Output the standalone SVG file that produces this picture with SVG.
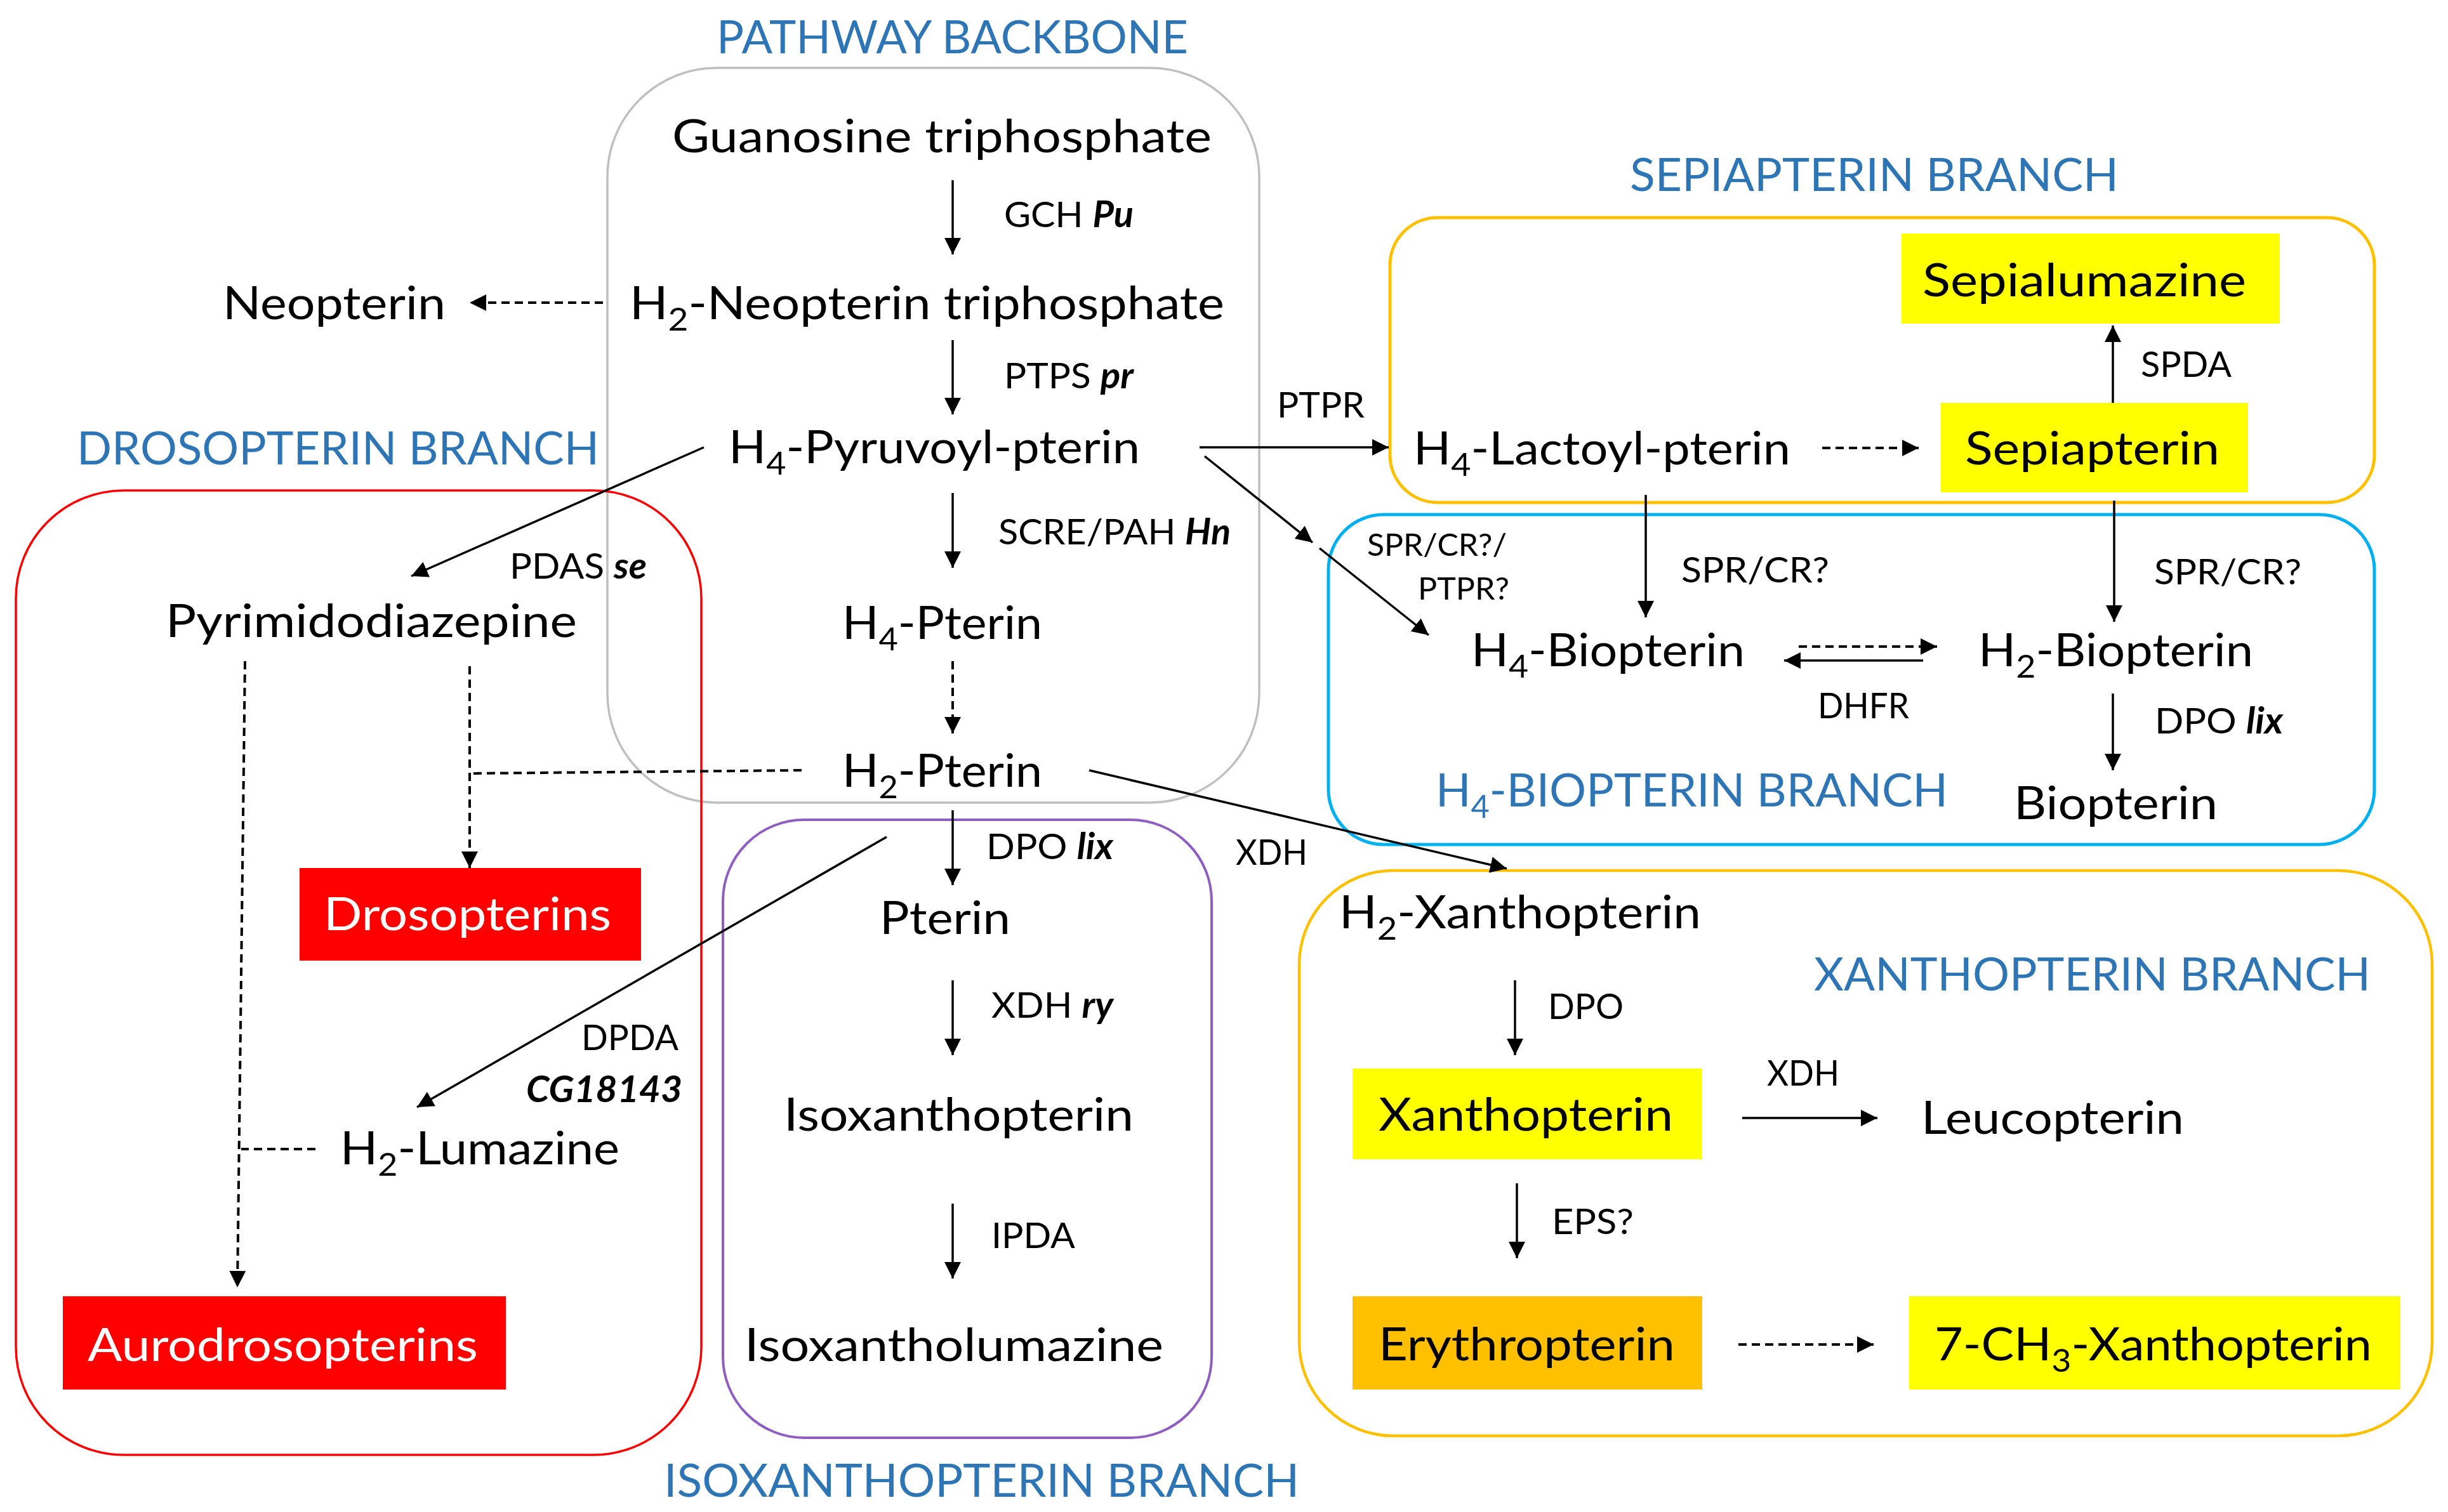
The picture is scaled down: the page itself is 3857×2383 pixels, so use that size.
<svg xmlns="http://www.w3.org/2000/svg" width="3857" height="2383" viewBox="0 0 3857 2383">
<style>
text{font-family:Lato,"Open Sans","Liberation Sans",sans-serif;fill:#000}
.n{font-size:72px}
.t{font-size:72px;fill:#2E75B6}
.e{font-size:57px}
.s{font-size:48px}
.w{fill:#fff}
.gi{font-weight:bold;font-style:italic}
.sub{font-size:50px}
.box{fill:none}
.c line{stroke:#000;stroke-width:3.5;fill:none}
.c .d{stroke-dasharray:13 8;stroke-width:4}
</style>
<defs>
<marker id="ah" viewBox="0 0 26 26" refX="26" refY="13" markerWidth="26" markerHeight="26" markerUnits="userSpaceOnUse" orient="auto">
<path d="M0,0 L26,13 L0,26 z" fill="#000"/>
</marker>
</defs>
<rect width="3857" height="2383" fill="#fff"/>

<g id="branch-boxes">
<rect id="box-backbone" class="box" x="957" y="107" width="1027" height="1158" rx="172" stroke="#BFBFBF" stroke-width="3.5"/>
<rect id="box-drosopterin" class="box" x="25" y="773" width="1080" height="1520" rx="170" stroke="#FF0000" stroke-width="3.5"/>
<rect id="box-isoxanthopterin" class="box" x="1139" y="1292" width="770" height="974" rx="128" stroke="#8E5EC0" stroke-width="4"/>
<rect id="box-sepiapterin" class="box" x="2190" y="343" width="1551" height="449" rx="75" stroke="#FFC000" stroke-width="5"/>
<rect id="box-biopterin" class="box" x="2093" y="811" width="1648" height="520" rx="87" stroke="#00B0F0" stroke-width="5"/>
<rect id="box-xanthopterin" class="box" x="2047" y="1372" width="1785" height="891" rx="148" stroke="#FFC000" stroke-width="4.5"/>
</g>

<g id="titles">
<text class="t" x="1129" y="84" textLength="743" lengthAdjust="spacingAndGlyphs">PATHWAY BACKBONE</text>
<text class="t" x="2568" y="301" textLength="770" lengthAdjust="spacingAndGlyphs">SEPIAPTERIN BRANCH</text>
<text class="t" x="121" y="732" textLength="823" lengthAdjust="spacingAndGlyphs">DROSOPTERIN BRANCH</text>
<text class="t" x="2262" y="1271" textLength="807" lengthAdjust="spacingAndGlyphs">H<tspan class="sub" dy="18">4</tspan><tspan dy="-18">-BIOPTERIN BRANCH</tspan></text>
<text class="t" x="2858" y="1561" textLength="877" lengthAdjust="spacingAndGlyphs">XANTHOPTERIN BRANCH</text>
<text class="t" x="1046" y="2359" textLength="1001" lengthAdjust="spacingAndGlyphs">ISOXANTHOPTERIN BRANCH</text>
</g>

<g id="connectors" class="c">
<line x1="1501" y1="284" x2="1501" y2="401" marker-end="url(#ah)"/>
<line x1="1501" y1="536" x2="1501" y2="653" marker-end="url(#ah)"/>
<line x1="1501" y1="777" x2="1501" y2="895" marker-end="url(#ah)"/>
<line class="d" x1="1501" y1="1042" x2="1501" y2="1156" marker-end="url(#ah)"/>
<line x1="1501" y1="1277" x2="1501" y2="1395" marker-end="url(#ah)"/>
<line x1="1501" y1="1545" x2="1501" y2="1663" marker-end="url(#ah)"/>
<line x1="1501" y1="1897" x2="1501" y2="2015" marker-end="url(#ah)"/>
<line class="d" x1="950" y1="477" x2="740" y2="477" marker-end="url(#ah)"/>
<line x1="1890" y1="705" x2="2188" y2="705" marker-end="url(#ah)"/>
<line x1="1898" y1="719" x2="2068" y2="855" marker-end="url(#ah)"/>
<line x1="2079" y1="864" x2="2251" y2="1001" marker-end="url(#ah)"/>
<line x1="1109" y1="705" x2="648" y2="908" marker-end="url(#ah)"/>
<line class="d" x1="2871" y1="706" x2="3023" y2="706" marker-end="url(#ah)"/>
<line x1="3329" y1="640" x2="3329" y2="513" marker-end="url(#ah)"/>
<line x1="2593" y1="780" x2="2593" y2="973" marker-end="url(#ah)"/>
<line x1="3331" y1="789" x2="3331" y2="980" marker-end="url(#ah)"/>
<line class="d" x1="2834" y1="1019" x2="3052" y2="1019" marker-end="url(#ah)"/>
<line x1="3030" y1="1041" x2="2811" y2="1041" marker-end="url(#ah)"/>
<line x1="3329" y1="1093" x2="3329" y2="1214" marker-end="url(#ah)"/>
<line x1="1716" y1="1214" x2="2374" y2="1369" marker-end="url(#ah)"/>
<line x1="1397" y1="1319" x2="657" y2="1745" marker-end="url(#ah)"/>
<line class="d" x1="386" y1="1042" x2="374" y2="2029" marker-end="url(#ah)"/>
<line class="d" x1="740" y1="1050" x2="740" y2="1368" marker-end="url(#ah)"/>
<line class="d" x1="1263" y1="1214" x2="740" y2="1219"/>
<line class="d" x1="497" y1="1811" x2="380" y2="1811"/>
<line x1="2387" y1="1545" x2="2387" y2="1663" marker-end="url(#ah)"/>
<line x1="2745" y1="1762" x2="2958" y2="1762" marker-end="url(#ah)"/>
<line x1="2390" y1="1865" x2="2390" y2="1983" marker-end="url(#ah)"/>
<line class="d" x1="2739" y1="2119" x2="2952" y2="2119" marker-end="url(#ah)"/>
</g>

<g id="enzyme-labels">
<text class="e" x="1582" y="358" textLength="204" lengthAdjust="spacingAndGlyphs">GCH <tspan class="gi">Pu</tspan></text>
<text class="e" x="1582" y="612" textLength="204" lengthAdjust="spacingAndGlyphs">PTPS <tspan class="gi">pr</tspan></text>
<text class="e" x="1573" y="858" textLength="366" lengthAdjust="spacingAndGlyphs">SCRE/PAH <tspan class="gi">Hn</tspan></text>
<text class="e" x="803" y="912" textLength="216" lengthAdjust="spacingAndGlyphs">PDAS <tspan class="gi">se</tspan></text>
<text class="e" x="2012" y="658" textLength="138" lengthAdjust="spacingAndGlyphs">PTPR</text>
<text class="e" x="3373" y="594" textLength="143" lengthAdjust="spacingAndGlyphs">SPDA</text>
<text class="s" x="2154" y="876" textLength="220" lengthAdjust="spacingAndGlyphs">SPR/CR?/</text>
<text class="s" x="2234" y="945" textLength="144" lengthAdjust="spacingAndGlyphs">PTPR?</text>
<text class="e" x="2649" y="918" textLength="233" lengthAdjust="spacingAndGlyphs">SPR/CR?</text>
<text class="e" x="3394" y="921" textLength="232" lengthAdjust="spacingAndGlyphs">SPR/CR?</text>
<text class="e" x="2864" y="1132" textLength="144" lengthAdjust="spacingAndGlyphs">DHFR</text>
<text class="e" x="3395" y="1156" textLength="202" lengthAdjust="spacingAndGlyphs">DPO <tspan class="gi">lix</tspan></text>
<text class="e" x="1554" y="1354" textLength="200" lengthAdjust="spacingAndGlyphs">DPO <tspan class="gi">lix</tspan></text>
<text class="e" x="1947" y="1363" textLength="113" lengthAdjust="spacingAndGlyphs">XDH</text>
<text class="e" x="1562" y="1604" textLength="192" lengthAdjust="spacingAndGlyphs">XDH <tspan class="gi">ry</tspan></text>
<text class="e" x="916" y="1655" textLength="153" lengthAdjust="spacingAndGlyphs">DPDA</text>
<text class="e gi" x="829" y="1737" textLength="246" lengthAdjust="spacingAndGlyphs">CG18143</text>
<text class="e" x="1562" y="1967" textLength="132" lengthAdjust="spacingAndGlyphs">IPDA</text>
<text class="e" x="2439" y="1606" textLength="119" lengthAdjust="spacingAndGlyphs">DPO</text>
<text class="e" x="2784" y="1711" textLength="114" lengthAdjust="spacingAndGlyphs">XDH</text>
<text class="e" x="2445" y="1945" textLength="129" lengthAdjust="spacingAndGlyphs">EPS?</text>
</g>

<g id="node-gtp"><text class="n" x="1059" y="240" textLength="850" lengthAdjust="spacingAndGlyphs">Guanosine triphosphate</text></g>
<g id="node-neopterin"><text class="n" x="351" y="503" textLength="351" lengthAdjust="spacingAndGlyphs">Neopterin</text></g>
<g id="node-h2-neopterin-tp"><text class="n" x="992" y="503" textLength="937" lengthAdjust="spacingAndGlyphs">H<tspan class="sub" dy="18">2</tspan><tspan dy="-18">-Neopterin triphosphate</tspan></text></g>
<g id="node-h4-pyruvoyl"><text class="n" x="1148" y="730" textLength="648" lengthAdjust="spacingAndGlyphs">H<tspan class="sub" dy="18">4</tspan><tspan dy="-18">-Pyruvoyl-pterin</tspan></text></g>
<g id="node-h4-lactoyl"><text class="n" x="2227" y="732" textLength="594" lengthAdjust="spacingAndGlyphs">H<tspan class="sub" dy="18">4</tspan><tspan dy="-18">-Lactoyl-pterin</tspan></text></g>
<g id="node-sepiapterin"><rect x="3058" y="635" width="484" height="141" fill="#FFFF00"/><text class="n" x="3096" y="732" textLength="401" lengthAdjust="spacingAndGlyphs">Sepiapterin</text></g>
<g id="node-sepialumazine"><rect x="2996" y="368" width="596" height="142" fill="#FFFF00"/><text class="n" x="3029" y="467" textLength="510" lengthAdjust="spacingAndGlyphs">Sepialumazine</text></g>
<g id="node-pyrimidodiazepine"><text class="n" x="261" y="1004" textLength="648" lengthAdjust="spacingAndGlyphs">Pyrimidodiazepine</text></g>
<g id="node-h4-pterin"><text class="n" x="1327" y="1007" textLength="315" lengthAdjust="spacingAndGlyphs">H<tspan class="sub" dy="18">4</tspan><tspan dy="-18">-Pterin</tspan></text></g>
<g id="node-h2-pterin"><text class="n" x="1327" y="1240" textLength="315" lengthAdjust="spacingAndGlyphs">H<tspan class="sub" dy="18">2</tspan><tspan dy="-18">-Pterin</tspan></text></g>
<g id="node-h4-biopterin"><text class="n" x="2318" y="1050" textLength="431" lengthAdjust="spacingAndGlyphs">H<tspan class="sub" dy="18">4</tspan><tspan dy="-18">-Biopterin</tspan></text></g>
<g id="node-h2-biopterin"><text class="n" x="3117" y="1050" textLength="433" lengthAdjust="spacingAndGlyphs">H<tspan class="sub" dy="18">2</tspan><tspan dy="-18">-Biopterin</tspan></text></g>
<g id="node-biopterin"><text class="n" x="3173" y="1291" textLength="321" lengthAdjust="spacingAndGlyphs">Biopterin</text></g>
<g id="node-drosopterins"><rect x="472" y="1368" width="538" height="146" fill="#FF0000"/><text class="n w" x="510" y="1466" textLength="453" lengthAdjust="spacingAndGlyphs">Drosopterins</text></g>
<g id="node-pterin"><text class="n" x="1386" y="1472" textLength="206" lengthAdjust="spacingAndGlyphs">Pterin</text></g>
<g id="node-h2-xanthopterin"><text class="n" x="2110" y="1463" textLength="570" lengthAdjust="spacingAndGlyphs">H<tspan class="sub" dy="18">2</tspan><tspan dy="-18">-Xanthopterin</tspan></text></g>
<g id="node-isoxanthopterin"><text class="n" x="1235" y="1782" textLength="551" lengthAdjust="spacingAndGlyphs">Isoxanthopterin</text></g>
<g id="node-h2-lumazine"><text class="n" x="536" y="1835" textLength="440" lengthAdjust="spacingAndGlyphs">H<tspan class="sub" dy="18">2</tspan><tspan dy="-18">-Lumazine</tspan></text></g>
<g id="node-xanthopterin"><rect x="2131" y="1684" width="551" height="143" fill="#FFFF00"/><text class="n" x="2172" y="1782" textLength="464" lengthAdjust="spacingAndGlyphs">Xanthopterin</text></g>
<g id="node-leucopterin"><text class="n" x="3027" y="1787" textLength="414" lengthAdjust="spacingAndGlyphs">Leucopterin</text></g>
<g id="node-aurodrosopterins"><rect x="99" y="2043" width="698" height="147" fill="#FF0000"/><text class="n w" x="138" y="2145" textLength="615" lengthAdjust="spacingAndGlyphs">Aurodrosopterins</text></g>
<g id="node-isoxantholumazine"><text class="n" x="1173" y="2145" textLength="660" lengthAdjust="spacingAndGlyphs">Isoxantholumazine</text></g>
<g id="node-erythropterin"><rect x="2131" y="2043" width="551" height="147" fill="#FFC000"/><text class="n" x="2172" y="2144" textLength="467" lengthAdjust="spacingAndGlyphs">Erythropterin</text></g>
<g id="node-7-ch3-xanthopterin"><rect x="3008" y="2043" width="774" height="147" fill="#FFFF00"/><text class="n" x="3048" y="2144" textLength="689" lengthAdjust="spacingAndGlyphs">7-CH<tspan class="sub" dy="18">3</tspan><tspan dy="-18">-Xanthopterin</tspan></text></g>
</svg>
